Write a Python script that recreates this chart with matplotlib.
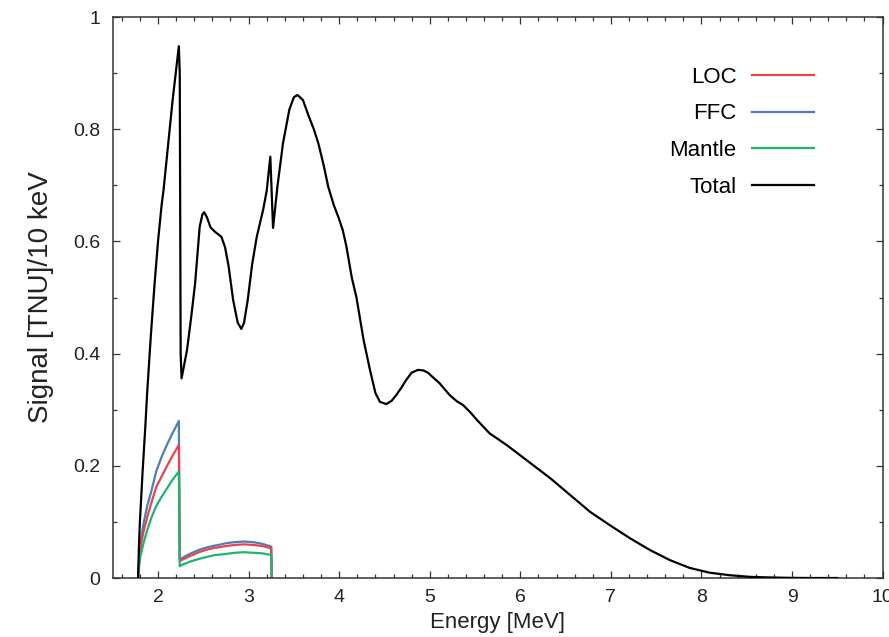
import numpy as np
import matplotlib
matplotlib.use("Agg")
import matplotlib.pyplot as plt
from matplotlib.ticker import MultipleLocator, FormatStrFormatter

plt.rcParams['font.family'] = ['Liberation Sans', 'DejaVu Sans']

# total spectrum
energy_total = [1.78, 1.79, 1.80, 1.81, 1.83, 1.86, 1.88, 1.92, 1.96, 2.00, 2.04, 2.05,
                2.06, 2.11, 2.16, 2.23, 2.24, 2.25, 2.26, 2.32, 2.37, 2.41, 2.46, 2.49,
                2.51, 2.54, 2.58, 2.63, 2.67, 2.70, 2.74, 2.78, 2.83, 2.88, 2.92, 2.95,
                2.99, 3.04, 3.09, 3.16, 3.20, 3.24, 3.27, 3.32, 3.38, 3.45, 3.50, 3.54,
                3.60, 3.66, 3.72, 3.77, 3.83, 3.88, 3.94, 3.99, 4.04, 4.08, 4.14, 4.19,
                4.27, 4.34, 4.40, 4.45, 4.52, 4.58, 4.63, 4.69, 4.74, 4.80, 4.87, 4.93,
                4.98, 5.04, 5.11, 5.22, 5.30, 5.37, 5.45, 5.52, 5.66, 5.85, 6.07, 6.33,
                6.55, 6.77, 6.99, 7.21, 7.43, 7.65, 7.87, 8.09, 8.31, 8.54, 8.76, 8.98,
                9.20, 9.50]
signal_total = [0.0, 0.06, 0.10, 0.13, 0.19, 0.27, 0.33, 0.43, 0.52, 0.60, 0.665, 0.678,
                0.69, 0.77, 0.85, 0.948, 0.90, 0.40, 0.356, 0.406, 0.47, 0.526, 0.626, 0.648,
                0.652, 0.643, 0.625, 0.617, 0.612, 0.608, 0.59, 0.555, 0.495, 0.455, 0.444, 0.455,
                0.495, 0.56, 0.608, 0.656, 0.69, 0.751, 0.624, 0.70, 0.775, 0.835, 0.857, 0.861,
                0.852, 0.825, 0.80, 0.775, 0.735, 0.697, 0.665, 0.644, 0.62, 0.591, 0.535, 0.501,
                0.424, 0.371, 0.33, 0.314, 0.310, 0.316, 0.326, 0.34, 0.353, 0.366, 0.371, 0.370,
                0.366, 0.357, 0.347, 0.326, 0.315, 0.308, 0.295, 0.282, 0.258, 0.237, 0.210, 0.178,
                0.148, 0.118, 0.094, 0.071, 0.050, 0.032, 0.018, 0.0095, 0.005, 0.002, 0.001, 0.0003,
                0.0, 0.0]

# crust and mantle components
energy_comp = [1.78, 1.80, 1.84, 1.88, 1.93, 1.98, 2.04, 2.10, 2.16, 2.23, 2.24, 2.26,
               2.35, 2.45, 2.55, 2.63, 2.64, 2.75, 2.85, 2.95, 3.05, 3.15, 3.25, 3.255]
signal_ffc = [0, 0.056, 0.097, 0.128, 0.157, 0.19, 0.216, 0.238, 0.258, 0.280, 0.033, 0.035,
              0.043, 0.050, 0.055, 0.058, 0.058, 0.062, 0.064, 0.065, 0.064, 0.061, 0.056, 0]
signal_loc = [0, 0.048, 0.083, 0.108, 0.136, 0.162, 0.181, 0.200, 0.218, 0.237, 0.030, 0.032,
              0.039, 0.046, 0.051, 0.054, 0.054, 0.057, 0.059, 0.060, 0.059, 0.057, 0.053, 0]
signal_mantle = [0, 0.035, 0.062, 0.085, 0.109, 0.128, 0.145, 0.160, 0.175, 0.190, 0.021, 0.023,
                 0.029, 0.034, 0.038, 0.041, 0.041, 0.043, 0.045, 0.046, 0.045, 0.044, 0.041, 0]

fig = plt.figure(figsize=(8.89, 6.37), dpi=100)
ax = fig.add_axes([0.1268, 0.0926, 0.866, 0.8807])

ax.plot(energy_total, signal_total, color='black', lw=1.6, label='Total', zorder=3)
ax.plot(energy_comp, signal_ffc, color='#4a7fb8', lw=1.6, label='FFC')
ax.plot(energy_comp, signal_loc, color='#e8434f', lw=1.6, label='LOC')
ax.plot(energy_comp, signal_mantle, color='#1fb56e', lw=1.6, label='Mantle')

ax.set_xlim(1.5, 10)
ax.set_ylim(0, 1)
ax.xaxis.set_major_locator(MultipleLocator(1))
ax.xaxis.set_minor_locator(MultipleLocator(0.2))
ax.yaxis.set_major_locator(MultipleLocator(0.2))
ax.yaxis.set_minor_locator(MultipleLocator(0.1))
ax.yaxis.set_major_formatter(FormatStrFormatter('%g'))
ax.xaxis.set_major_formatter(FormatStrFormatter('%g'))
ax.tick_params(which='both', direction='in', top=True, right=True, width=0.9, color='#333333')
ax.tick_params(which='major', length=5, labelsize=14, labelcolor='#222222')
ax.tick_params(axis='x', which='major', pad=8)
ax.tick_params(axis='y', which='major', pad=9)
ax.tick_params(which='minor', length=3)
for s in ax.spines.values():
    s.set_linewidth(1.1)
    s.set_color('#333333')

ax.set_xlabel('Energy [MeV]', fontsize=16, color='#222222')
ax.set_ylabel('Signal [TNU]/10 keV', fontsize=20, color='#222222')
ax.xaxis.set_label_coords(0.5, -0.06)
ax.yaxis.set_label_coords(-0.076, 0.5)

h, l = ax.get_legend_handles_labels()
order = [2, 1, 3, 0]
ax.legend([h[i] for i in order], [l[i] for i in order], loc='upper right',
          bbox_to_anchor=(0.911, 0.911), frameon=False, markerfirst=False,
          fontsize=16, handlelength=2.8, handletextpad=0.7, labelspacing=0.7,
          borderpad=0, borderaxespad=0)

fig.savefig('out.png', dpi=100)
